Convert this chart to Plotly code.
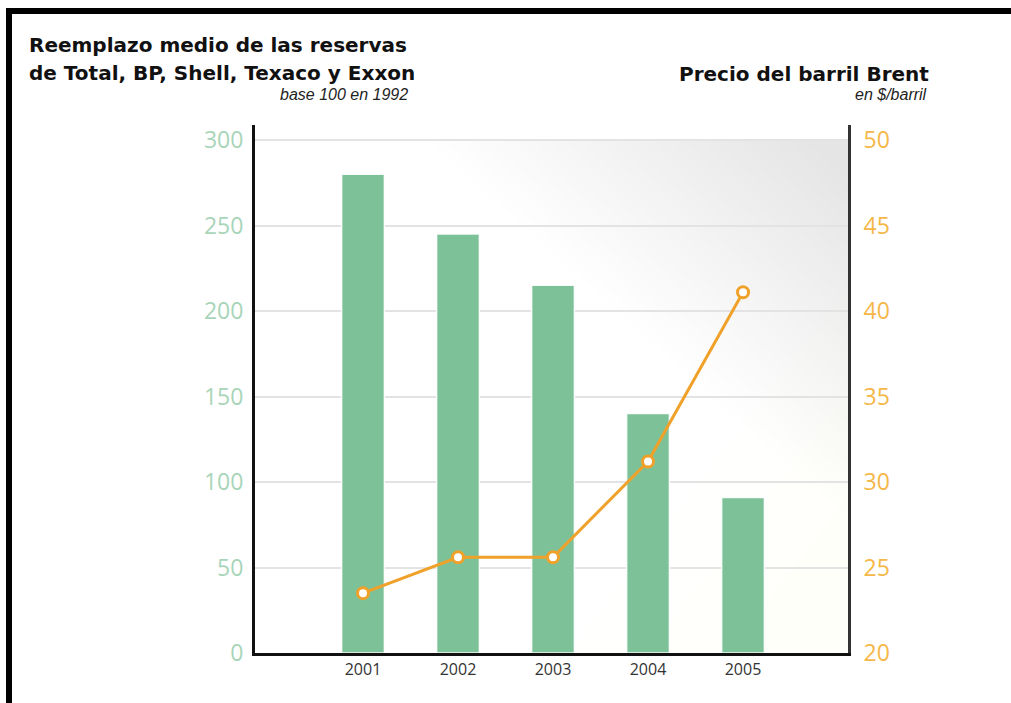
import plotly.graph_objects as go

years = ["2001", "2002", "2003", "2004", "2005"]
reserves = [280, 245, 215, 140, 91]
brent = [23.5, 25.6, 25.6, 31.2, 41.1]
left_ticks = [0, 50, 100, 150, 200, 250, 300]
right_ticks = [20, 25, 30, 35, 40, 45, 50]

W, H = 1011, 703
L, R, T, B = 255, 848, 125, 653  # plot area pixels


def px(x):
    return (x - L) / (R - L)


def py(y):
    return (B - y) / (B - T)


fig = go.Figure()
fig.add_trace(go.Bar(
    x=years, y=reserves, width=0.45,
    marker=dict(color="#7cc197", line=dict(color="rgba(255,255,255,0.9)", width=1.5)),
    yaxis="y", showlegend=False, hoverinfo="skip",
))
fig.add_trace(go.Scatter(
    x=years, y=brent, yaxis="y2", mode="lines+markers",
    line=dict(color="#f0a12a", width=3),
    marker=dict(size=11, color="white", line=dict(color="#f0a12a", width=3)),
    showlegend=False, hoverinfo="skip",
))

shapes = []
# soft gray gradient in upper right of plot area (decorative background)
grad_top = py(140)
n = 26
for k in range(n):
    d = 420 - k * 15
    shapes.append(dict(
        type="path", xref="paper", yref="paper", layer="below",
        path=f"M {px(R - d)} {grad_top} L {px(R)} {grad_top} L {px(R)} {py(140 + d * 0.9)} Z",
        fillcolor="#a4a8ba", opacity=0.01, line=dict(width=0),
    ))
# faint warm tint lower right
for k in range(6):
    d = 280 - k * 40
    shapes.append(dict(
        type="path", xref="paper", yref="paper", layer="below",
        path=f"M {px(R)} {py(B)} L {px(R - d)} {py(B)} L {px(R)} {py(B - d * 1.3)} Z",
        fillcolor="#f1e6cf", opacity=0.02, line=dict(width=0),
    ))
# outer frame
shapes.append(dict(type="rect", xref="paper", yref="paper", x0=px(6), x1=px(1011),
                   y0=py(14), y1=py(8), fillcolor="black", line=dict(width=0), layer="above"))
shapes.append(dict(type="rect", xref="paper", yref="paper", x0=px(6), x1=px(12),
                   y0=py(703), y1=py(8), fillcolor="black", line=dict(width=0), layer="above"))

title_font = dict(family="DejaVu Sans, Verdana, sans-serif", size=20, color="#111")
sub_font = dict(family="Liberation Sans Narrow, Liberation Sans, Arial", size=16, color="#222")

annotations = [
    dict(text="<b>Reemplazo medio de las reservas</b>", x=px(27), y=py(45), xanchor="left",
         yanchor="middle", xref="paper", yref="paper", showarrow=False, font=title_font),
    dict(text="<b>de Total, BP, Shell, Texaco y Exxon</b>", x=px(27), y=py(73), xanchor="left",
         yanchor="middle", xref="paper", yref="paper", showarrow=False, font=title_font),
    dict(text="<i>base 100 en 1992</i>", x=px(410), y=py(94), xanchor="right",
         yanchor="middle", xref="paper", yref="paper", showarrow=False, font=sub_font),
    dict(text="<b>Precio del barril Brent</b>", x=px(931), y=py(74), xanchor="right",
         yanchor="middle", xref="paper", yref="paper", showarrow=False, font=title_font),
    dict(text="<i>en $/barril</i>", x=px(929), y=py(94), xanchor="right",
         yanchor="middle", xref="paper", yref="paper", showarrow=False, font=sub_font),
]

ytop = 300 * (B - T) / (B - 140)
y2top = 20 + 30 * (B - T) / (B - 140)

fig.update_layout(
    width=W, height=H,
    margin=dict(l=L, r=W - R, t=T, b=H - B, pad=0),
    paper_bgcolor="white", plot_bgcolor="white",
    bargap=0.5,
    xaxis=dict(type="category", range=[-1.137, 5.105], showgrid=False,
               showline=True, linecolor="#111", linewidth=3, ticks="",
               tickfont=dict(family="Open Sans, sans-serif", size=16, color="#333"),
               fixedrange=True),
    yaxis=dict(range=[0, ytop], tickvals=left_ticks, showgrid=True, gridcolor="#e3e3e3",
               gridwidth=2, zeroline=False, showline=True, linecolor="#111", linewidth=3,
               ticks="", ticklabelstandoff=4,
               tickfont=dict(family="Open Sans, sans-serif", size=23, color="#a8d5b9")),
    yaxis2=dict(range=[20, y2top], tickvals=right_ticks, overlaying="y", side="right",
                showgrid=False, zeroline=False, showline=True, linecolor="#333", linewidth=3,
                ticks="", ticklabelstandoff=8,
                tickfont=dict(family="Open Sans, sans-serif", size=23, color="#f5b747")),
    shapes=shapes, annotations=annotations,
)

fig.write_html("out.html", config={"displayModeBar": False},
               post_script="document.body.style.margin='0px';document.body.style.overflow='hidden';")
